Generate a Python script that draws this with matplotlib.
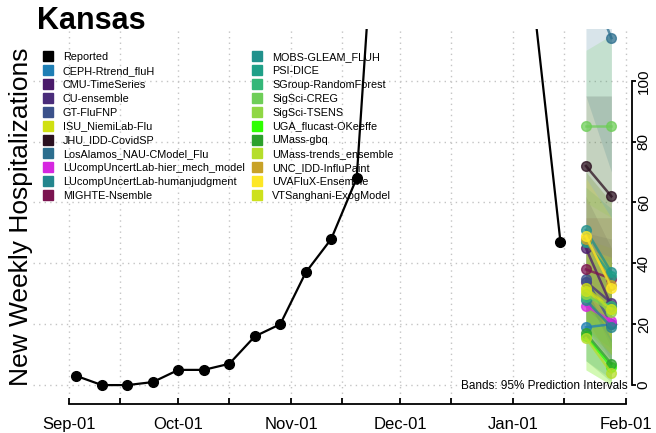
import numpy as np
import pandas as pd
import matplotlib
matplotlib.use('Agg')
import matplotlib.pyplot as plt
import matplotlib.dates as mdates
from matplotlib.lines import Line2D

plt.rcParams['font.family'] = ['Liberation Sans', 'DejaVu Sans']

# reported weekly hospitalizations (Kansas)
report_dates = pd.date_range('2022-09-03', periods=20, freq='7D')
reported = [3, 0, 0, 1, 5, 5, 7, 16, 20, 37, 48, 68, 193, 290, 265, 240, 215, 170, 122, 47]

forecast_dates = pd.to_datetime(['2023-01-21', '2023-01-28'])

models = ['CEPH-Rtrend_fluH', 'CMU-TimeSeries', 'CU-ensemble', 'GT-FluFNP',
          'ISU_NiemiLab-Flu', 'JHU_IDD-CovidSP', 'LosAlamos_NAU-CModel_Flu',
          'LUcompUncertLab-hier_mech_model', 'LUcompUncertLab-humanjudgment',
          'MIGHTE-Nsemble', 'MOBS-GLEAM_FLUH', 'PSI-DICE', 'SGroup-RandomForest',
          'SigSci-CREG', 'SigSci-TSENS', 'UGA_flucast-OKeeffe', 'UMass-gbq',
          'UMass-trends_ensemble', 'UNC_IDD-InfluPaint', 'UVAFluX-Ensemble',
          'VTSanghani-ExogModel']
colors = ['#1f7fb5', '#4a1a6a', '#4a2c7a', '#3b528b', '#d0e011', '#2b1020',
          '#2c6e8e', '#d627e0', '#24868e', '#7b1450', '#21918c', '#1fa088',
          '#35b779', '#6ece58', '#8fd744', '#2eff00', '#2ca02c', '#b5de2b',
          '#c8a228', '#fde725', '#cde11d']

# point forecasts for the two target weeks
fc_w1 = [19, 45, 34, 35, 32, 72, 135, 26, 28, 38, 51, 47, 29, 85, 30, 16, 17, 15.5, 48, 49, 31]
fc_w2 = [20, 26, 27, 20, 25, 62, 114, 21, 19, 35, 37, 36, 26, 85, 24, 6, 7, 4, 33, 32, 25]
# 95% prediction intervals
lo_w1 = [8, 30, 20, 22, 18, 50, 95, 15, 18, 25, 35, 30, 18, 60, 18, 5, 8, 5, 30, 32, 20]
hi_w1 = [32, 62, 50, 50, 48, 95, 175, 40, 40, 55, 70, 65, 42, 110, 45, 30, 30, 28, 70, 68, 45]
lo_w2 = [2, 12, 10, 8, 10, 35, 70, 8, 8, 18, 20, 18, 12, 55, 10, 0, 1, 0, 15, 15, 10]
hi_w2 = [40, 45, 48, 38, 45, 95, 165, 38, 34, 55, 60, 58, 42, 115, 40, 18, 20, 14, 60, 55, 42]

tick_dates = pd.to_datetime(['2022-09-01', '2022-09-15', '2022-10-01', '2022-10-15',
                             '2022-11-01', '2022-11-15', '2022-12-01', '2022-12-15',
                             '2023-01-01', '2023-01-15', '2023-02-01'])
tick_labels = ['Sep-01', '', 'Oct-01', '', 'Nov-01', '', 'Dec-01', '', 'Jan-01', '', 'Feb-01']
y_ticks = [0, 20, 40, 60, 80, 100]

fig = plt.figure(figsize=(6.56, 4.33), dpi=100)
ax = fig.add_axes([0.050, 0.079, 0.907, 0.854])

# grid
grid_style = dict(color='#c4c4c4', linestyle=(0, (1, 3)), linewidth=1.0, zorder=0)
for t in tick_dates:
    ax.axvline(t, **grid_style)
for v in y_ticks:
    ax.axhline(v, **grid_style)

# prediction bands
for i, m in enumerate(models):
    ax.fill_between(forecast_dates, [lo_w1[i], lo_w2[i]], [hi_w1[i], hi_w2[i]],
                    color=colors[i], alpha=0.18, linewidth=0, zorder=1)

# reported
ax.plot(report_dates, reported, color='black', linewidth=1.6, marker='o',
        markersize=7, zorder=5)

# point forecasts
for i, m in enumerate(models):
    ax.plot(forecast_dates, [fc_w1[i], fc_w2[i]], color=colors[i], linewidth=1.8,
            marker='o', markersize=7, alpha=0.75, zorder=4)

ax.set_xlim(pd.Timestamp('2022-08-22'), pd.Timestamp('2023-02-01 12:00'))
ax.set_ylim(-4.5, 117)

for s in ['top', 'left']:
    ax.spines[s].set_visible(False)
ax.spines['bottom'].set_position(('outward', 4))
ax.spines['bottom'].set_bounds(mdates.date2num(tick_dates[0]), mdates.date2num(tick_dates[-1]))
ax.spines['right'].set_position(('outward', 3))
ax.spines['right'].set_bounds(0, 100)
ax.spines['bottom'].set_linewidth(1.3)
ax.spines['right'].set_linewidth(1.3)

ax.set_xticks(tick_dates)
ax.set_xticklabels(tick_labels, fontsize=12)
ax.tick_params(axis='x', direction='in', length=4, width=1.3, pad=9)

ax.yaxis.tick_right()
ax.set_yticks(y_ticks)
ax.set_yticklabels([str(v) for v in y_ticks], fontsize=11, rotation=90, va='center')
ax.tick_params(axis='y', direction='out', length=3, width=1.3, pad=0.5)

ax.text(0.999, 0.035, 'Bands: 95% Prediction Intervals', transform=ax.transAxes,
        ha='right', va='center', fontsize=8.5, zorder=6)

# legend
handles = [Line2D([], [], marker='s', linestyle='none', color='black', markersize=6.5)]
labels = ['Reported']
for i, m in enumerate(models):
    handles.append(Line2D([], [], marker='s', linestyle='none', color=colors[i], markersize=6.5))
    labels.append(m)
fig.legend(handles, labels, ncol=2, loc='upper left', bbox_to_anchor=(0.066, 0.880),
           frameon=False, fontsize=7.8, handlelength=0.8, handletextpad=1.0,
           labelspacing=0.36, columnspacing=0.75, borderaxespad=0, borderpad=0)

fig.text(0.056, 0.985, 'Kansas', fontsize=22, fontweight='bold', ha='left', va='top')
fig.text(0.032, 0.5, 'New Weekly Hospitalizations', fontsize=19, rotation=90,
         ha='center', va='center')

fig.savefig('out.png', dpi=100)
